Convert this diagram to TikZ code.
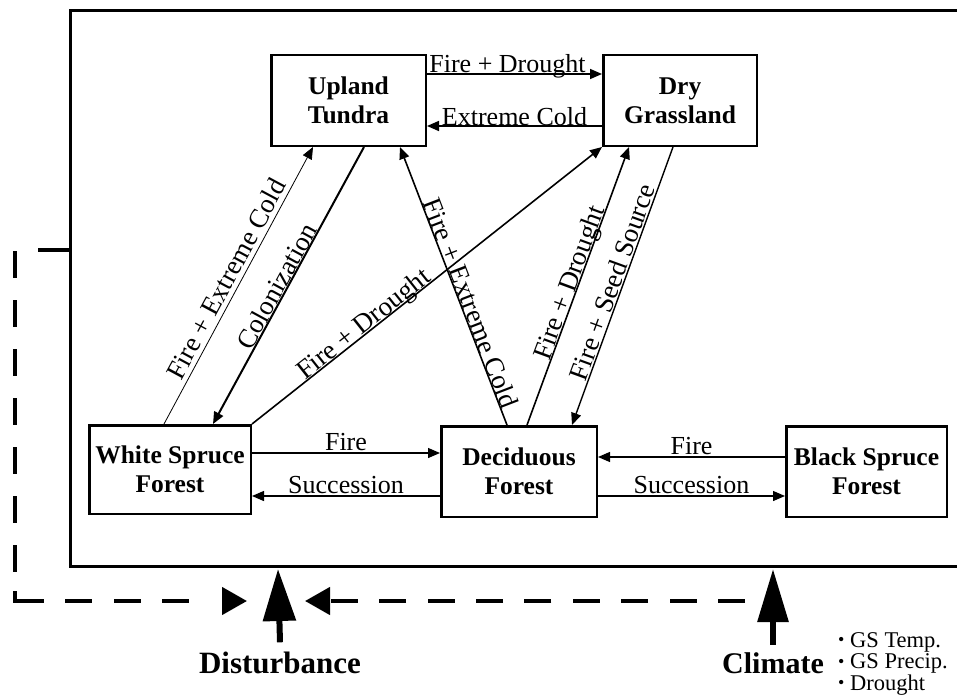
\documentclass[tikz,border=0pt]{standalone}
\usepackage{fontspec}
\setmainfont{Liberation Serif}
\usetikzlibrary{arrows.meta}

\tikzset{
  state/.style={draw, line width=2.5pt, align=center, inner sep=0pt,
    font=\bfseries\fontsize{25.5}{29}\selectfont},
  trans/.style={-{Triangle[length=12pt,width=10pt]}, line width=1.6pt},
  lab/.style={anchor=base, inner sep=0pt, font=\fontsize{26}{28}\selectfont},
  slab/.style={lab, sloped, font=\fontsize{27}{28}\selectfont},
  bigup/.style={-{Triangle[length=52pt,width=32pt]}, line width=6pt},
  feedback/.style={-{Triangle[length=25pt,width=27pt]}, line width=4.5pt},
  driver/.style={anchor=base, inner sep=1pt, font=\bfseries\fontsize{31}{31}\selectfont},
}
\newcommand{\smallbullet}{\raisebox{1.5pt}{\scalebox{0.8}{\textbullet}}}

\begin{document}
\begin{tikzpicture}[x=1pt,y=-1pt]
    \useasboundingbox (0,0) rectangle (957,698);

    % vegetation states
    \node (tundra) [state, minimum width=154.5pt, minimum height=90.5pt] at (348.5,100.5) {Upland\\Tundra};
    \node (grass) [state, minimum width=153.5pt, minimum height=90.5pt] at (680,100.5) {Dry\\Grassland};
    \node (white) [state, minimum width=161.5pt, minimum height=88.5pt] at (170,469.5) {White Spruce\\Forest};
    \node (decid) [state, minimum width=155.5pt, minimum height=90.5pt] at (519,471.5) {Deciduous\\Forest};
    \node (black) [state, minimum width=160.5pt, minimum height=90.5pt] at (866.5,471.5) {Black Spruce\\Forest};

    % horizontal transitions
    \draw[trans] ([yshift=26.5pt]tundra.east) -- node[lab, pos=0.46, yshift=1pt]{Fire + Drought} ([yshift=26.5pt]grass.west);
    \draw[trans] ([yshift=-25.5pt]grass.west) -- node[lab, yshift=1pt]{Extreme Cold} ([yshift=-25.5pt]tundra.east);
    \draw[trans, line width=1.3pt] ([yshift=16.5pt]white.east) -- node[lab, yshift=3pt]{Fire} ([yshift=18.5pt]decid.west);
    \draw[trans, line width=1.3pt] ([yshift=-24.5pt]decid.west) -- node[lab, yshift=3pt]{Succession} ([yshift=-26.5pt]white.east);
    \draw[trans, line width=1.3pt] ([yshift=14.5pt]black.west) -- node[lab, yshift=3pt]{Fire} ([yshift=14.5pt]decid.east);
    \draw[trans, line width=1.3pt] ([yshift=-24.5pt]decid.east) -- node[lab, yshift=3pt]{Succession} ([yshift=-24.5pt]black.west);

    % diagonal transitions
    \draw[trans, line width=0.8pt] ([xshift=-6pt]white.north) -- node[slab, pos=0.5]{\raisebox{5pt}{Fire + Extreme Cold}} ([xshift=-35.5pt]tundra.south);
    \draw[trans, line width=2pt] ([xshift=15.5pt]tundra.south) -- node[slab, pos=0.52]{\raisebox{1pt}{Colonization}} ([xshift=43pt]white.north);
    \draw[trans] (white.north east) -- node[slab, pos=0.335]{\raisebox{1pt}{Fire + Drought}} (grass.south west);
    \draw[trans] ([xshift=-12pt]decid.north) -- node[slab, pos=0.425]{\raisebox{1pt}{Fire + Extreme Cold}} ([xshift=51.5pt]tundra.south);
    \draw[trans] ([xshift=8pt]decid.north) -- node[slab, pos=0.5]{\raisebox{1pt}{Fire + Drought}} ([xshift=-51pt]grass.south);
    \draw[trans, line width=1.4pt] ([xshift=-7pt]grass.south) -- node[slab, pos=0.5]{\raisebox{2pt}{Fire + Seed Source}} ([xshift=53pt]decid.north);

    % system frame
    \draw[line width=3pt] (960,11) -- (70,11) -- (70,566) -- (960,566);
    \coordinate (fbStart) at (70,250);
    \coordinate (fbTip) at (247,601);
    \coordinate (clStart) at (745,601);
    \coordinate (clTip) at (305,601);
    \coordinate (distTip) at (278,569);
    \coordinate (climTip) at (773,569);

    % drivers
    \node (disturbance) [driver] at (280,673) {Disturbance};
    \node (climate) [driver, font=\bfseries\fontsize{30}{30}\selectfont] at (773,673) {Climate};
    \node (climvars) [anchor=base west, align=left, inner sep=0pt, font=\fontsize{22.5}{21.5}\selectfont] at (838,690)
        {\smallbullet\ GS Temp.\\ \smallbullet\ GS Precip.\\ \smallbullet\ Drought};
    \draw[bigup] ([yshift=8pt]disturbance.north) -- (distTip);
    \draw[bigup, -{Triangle[length=53pt,width=30pt]}] ([yshift=6pt]climate.north) -- (climTip);

    % feedback
    \draw[feedback, dash pattern=on 32pt off 24pt on 27pt off 22pt on 27pt off 22pt on 27pt off 22pt on 27pt off 22pt on 27pt off 22pt on 27pt off 22pt on 27pt off 19pt on 39pt off 21pt on 27pt off 22pt on 27pt off 21pt on 27pt off 100pt]
        (fbStart) -- ++(-55,0) |- (fbTip);
    \draw[feedback, dash pattern=on 27pt off 21.4pt] (clStart) -- (clTip);
\end{tikzpicture}
\end{document}
